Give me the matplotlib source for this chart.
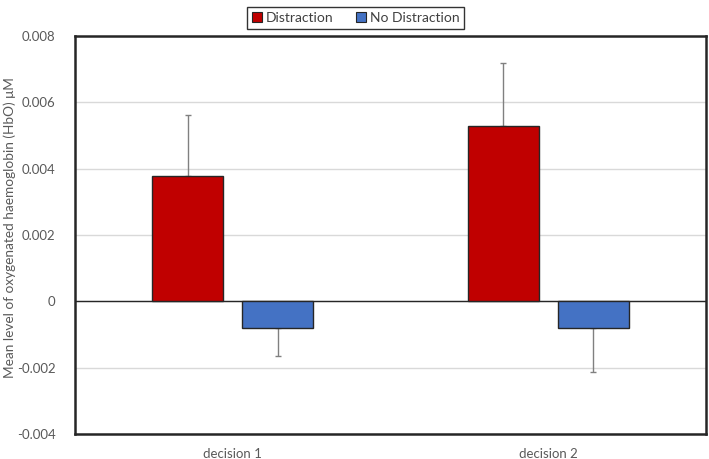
import matplotlib
matplotlib.use("Agg")
import matplotlib.pyplot as plt
import numpy as np
from matplotlib.patches import Patch

categories = ["decision 1", "decision 2"]
series_names = ["Distraction", "No Distraction"]
distraction = [0.00378, 0.00528]
distraction_err = [0.00184, 0.00191]
no_distraction = [-0.00079, -0.00081]
no_distraction_err = [0.00087, 0.00133]
yticks = [-0.004, -0.002, 0, 0.002, 0.004, 0.006, 0.008]
ytick_labels = ["-0.004", "-0.002", "0", "0.002", "0.004", "0.006", "0.008"]

plt.rcParams['font.family'] = ['Lato', 'DejaVu Sans']

fig = plt.figure(figsize=(7.09, 4.59), dpi=100)
ax = fig.add_axes([75/709, 25/459, 631/709, 398/459])

x = np.arange(len(categories))
w = 0.226
off = 0.1426
red = "#C00000"
blue = "#4472C4"
edge = "#262626"

ax.bar(x - off, distraction, w, color=red, edgecolor=edge, linewidth=1.0, zorder=3)
ax.bar(x + off, no_distraction, w, color=blue, edgecolor=edge, linewidth=1.0, zorder=3)

n = len(categories)
ax.errorbar(x - off, distraction, yerr=[np.zeros(n), distraction_err], fmt='none',
            ecolor="#808080", elinewidth=1.0, capsize=2, capthick=1.0, zorder=2)
ax.errorbar(x + off, no_distraction, yerr=[no_distraction_err, np.zeros(n)], fmt='none',
            ecolor="#808080", elinewidth=1.0, capsize=2, capthick=1.0, zorder=2)

ax.set_xlim(-0.5, 1.5)
ax.set_ylim(-0.004, 0.008)
ax.set_yticks(yticks)
ax.set_yticklabels(ytick_labels)
ax.set_xticks(x)
ax.set_xticklabels(categories)
ax.tick_params(axis='both', length=0, colors="#595959", labelsize=9.5)
ax.tick_params(axis='y', pad=14)
ax.tick_params(axis='x', pad=10)
ax.yaxis.grid(True, color="#d9d9d9", linewidth=1.0, zorder=0)
ax.set_axisbelow(True)
ax.axhline(0, color="#262626", linewidth=1.0, zorder=2.5)

for s in ax.spines.values():
    s.set_color("#262626")
    s.set_linewidth(1.8)

fig.text(10/709, 1 - 228/459, "Mean level of oxygenated haemoglobin (HbO) μM",
         rotation=90, color="#595959", fontsize=9.8, ha='center', va='center')

handles = [Patch(facecolor=red, edgecolor=edge, linewidth=0.8),
           Patch(facecolor=blue, edgecolor=edge, linewidth=0.8)]
leg = fig.legend(handles, series_names, loc='upper center', bbox_to_anchor=(0.502, 1.0),
                 ncol=2, frameon=True, fancybox=False, edgecolor="black", fontsize=10,
                 handlelength=0.7, handleheight=0.7, handletextpad=0.3, columnspacing=1.6,
                 borderpad=0.35, labelcolor="#404040")
leg.get_frame().set_linewidth(1.0)

fig.savefig("out.png", dpi=100)
